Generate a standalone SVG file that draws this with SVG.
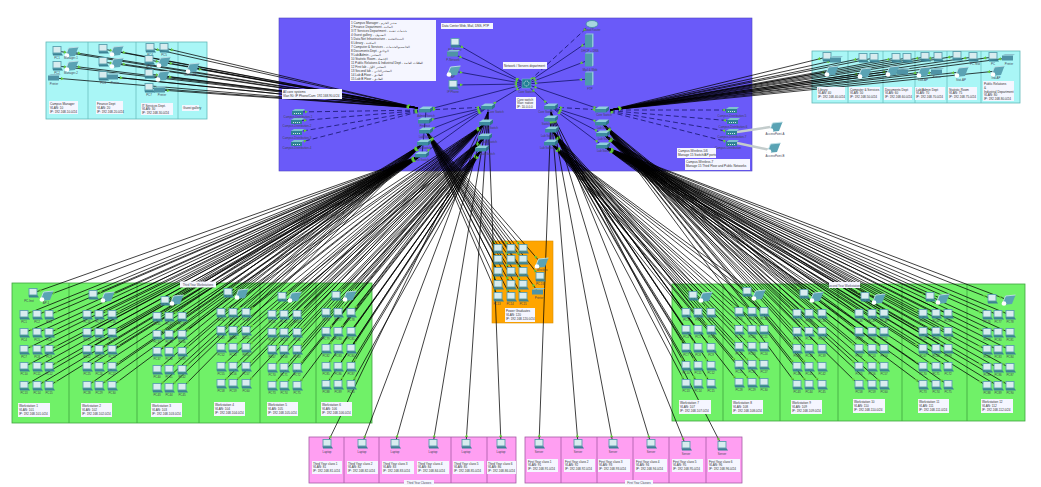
<svg xmlns="http://www.w3.org/2000/svg" width="1041" height="487" viewBox="0 0 1041 487">
<style>
text{font-family:"Liberation Sans",Arial,sans-serif;font-size:2.9px;fill:#445;text-anchor:middle}
.nt{font-size:3.1px;fill:#333;text-anchor:start}
.n{fill:#f5f6ff}
.b{stroke-width:.8;fill:none}
.d{stroke-width:.7;fill:none}
.c line{stroke:#000;stroke-width:.75;marker-start:url(#ts);marker-end:url(#te)}
.da line{stroke:#14146a;stroke-width:.8;stroke-dasharray:5 3;marker-start:url(#ts);marker-end:url(#te)}
.s line{stroke:#14146a;stroke-width:.8;marker-start:url(#ts);marker-end:url(#te)}
marker{overflow:visible}
</style>
<defs>
<marker id="ts" markerUnits="userSpaceOnUse" orient="auto" refX="0" refY="0" markerWidth="1" markerHeight="1"><path d="M9-1.6 12 0 9 1.6z" fill="#63c93c"/></marker>
<marker id="te" markerUnits="userSpaceOnUse" orient="auto" refX="0" refY="0" markerWidth="1" markerHeight="1"><path d="M-7-1.6-10 0-7 1.6z" fill="#63c93c"/></marker>
<g id="pc"><rect x="-4" y="-4.500" width="8" height="6.500" fill="#d8ecef" stroke="#5a9fae" stroke-width=".9"/><path d="M-4.500 2.300H4.500L6 4.500H-4z" fill="#3c8295"/></g>
<g id="wl"><path d="M-6 5-2.500-4 7.500-5 4 4z" fill="#5aa3b4"/><path d="M-6 5-2.500-4 7.500-5" fill="none" stroke="#bfe0e6" stroke-width=".9"/><circle cx="-4" cy="3.500" r="2.300" fill="#fff"/></g>
<g id="pr"><rect x="-6" y="-2.500" width="11" height="5" fill="#4f93a6"/><path d="M-6-2.500H5L7-4H-3z" fill="#8cc3cf"/></g>
<g id="sw"><path d="M-7-1-3-3.500H7L4-1z" fill="#8fd0da"/><path d="M-7-1H4V2.500H-7z" fill="#3d8ba0"/><path d="M4-1 7-3.500V0L4 2.500z" fill="#2f7488"/></g>
<g id="cs"><path d="M-6-1-3-3H7L5-1z" fill="#7fc2cf"/><path d="M-6-1H5V3H-6z" fill="#2f8295"/><path d="M-4 1.500H3" stroke="#fff" stroke-width=".8" stroke-dasharray="1 1"/></g>
<g id="sv"><rect x="-4" y="-6.500" width="7" height="13" fill="#4f9bac"/><path d="M-4-6.500-2.500-7.500H4.500L3-6.500zM3-6.500 4.500-7.500V5.500L3 6.500z" fill="#8cc9d4"/></g>
</defs>

<g id="backgrounds">
<rect x="279" y="18" width="473" height="153" fill="#6a5af9" stroke="#4e44c0" stroke-width=".6"/>
<rect x="46" y="42" width="161" height="77" fill="#a9f6f6" stroke="#62b8b8" stroke-width=".8"/>
<path class="d" stroke="#62b8b8" d="M88 42V119M136 42V119M178 42V119"/>
<rect x="812" y="51" width="208" height="52" fill="#a9f6f6" stroke="#62b8b8" stroke-width=".8"/>
<path class="d" stroke="#62b8b8" d="M848 51V103M883 51V103M915 51V103M947 51V103M981 51V103"/>
<rect x="12" y="283" width="360" height="140" fill="#70f168" stroke="#3fa53f" stroke-width=".8"/>
<path class="b" stroke="#3fa53f" d="M69 283V423M137 283V423M199 283V423M260 283V423M316 283V423"/>
<rect x="672" y="284" width="353" height="137" fill="#70f168" stroke="#3fa53f" stroke-width=".8"/>
<path class="b" stroke="#3fa53f" d="M723 284V421M780 284V421M838 284V421M902 284V421M967 284V421"/>
<rect x="309" y="437" width="207" height="46" fill="#ff9ff2" stroke="#a55aa5" stroke-width=".8"/>
<path class="b" stroke="#a55aa5" d="M344 437V483M379 437V483M451 437V483M487 437V483"/>
<rect x="525" y="437" width="217" height="46" fill="#ff9ff2" stroke="#a55aa5" stroke-width=".8"/>
<path class="b" stroke="#a55aa5" d="M561 437V483M597 437V483M633 437V483M669 437V483M706 437V483"/>
<rect x="492" y="241" width="61" height="82" fill="#ffa500" stroke="#d98c00" stroke-width=".6"/>
</g>

<g id="connectors">
<g class="da">
<line x1="592" y1="23" x2="526" y2="84"/>
<line x1="426" y1="110" x2="298" y2="112"/><line x1="426" y1="110" x2="297" y2="121"/><line x1="426" y1="110" x2="297" y2="132"/><line x1="426" y1="110" x2="297" y2="143"/>
<line x1="488" y1="107" x2="426" y2="110"/>
<line x1="602" y1="110" x2="732" y2="110"/><line x1="602" y1="110" x2="733" y2="121"/><line x1="602" y1="110" x2="732" y2="132"/><line x1="602" y1="110" x2="732" y2="143"/>
<line x1="551" y1="107" x2="602" y2="110"/>
</g>
<g class="s">
<line x1="526" y1="84" x2="589" y2="41"/><line x1="526" y1="84" x2="589" y2="60"/><line x1="526" y1="84" x2="589" y2="79"/>
<line x1="526" y1="84" x2="455" y2="43"/><line x1="526" y1="84" x2="453" y2="54"/><line x1="526" y1="84" x2="453" y2="71"/><line x1="526" y1="84" x2="453" y2="85"/>
<line x1="526" y1="84" x2="426" y2="110"/><line x1="526" y1="84" x2="488" y2="107"/><line x1="526" y1="84" x2="551" y2="107"/><line x1="526" y1="84" x2="602" y2="110"/>
<line x1="488" y1="107" x2="425" y2="121"/><line x1="488" y1="107" x2="426" y2="131"/><line x1="488" y1="107" x2="424" y2="143"/><line x1="488" y1="107" x2="422" y2="155"/>
<line x1="551" y1="107" x2="602" y2="123"/><line x1="551" y1="107" x2="603" y2="134"/><line x1="551" y1="107" x2="603" y2="146"/>
</g>
<path d="M737 132 770 127M737 143 770 150" stroke="#c3cccc" stroke-width="2.500" fill="none"/>
<path d="M488 107V149M551 107V143M426 110 422 155" stroke="#14146a" stroke-width=".8" fill="none"/>
<g class="c" id="c-cyan-left">
<line x1="418" y1="108" x2="57" y2="51"/><line x1="418" y1="108" x2="71" y2="52"/><line x1="418" y1="108" x2="57" y2="66"/><line x1="418" y1="108" x2="71" y2="66"/><line x1="418" y1="108" x2="54" y2="78"/>
<line x1="418" y1="108" x2="103" y2="49"/><line x1="418" y1="108" x2="116" y2="51"/><line x1="418" y1="108" x2="103" y2="62"/><line x1="418" y1="108" x2="116" y2="63"/><line x1="418" y1="108" x2="103" y2="76"/><line x1="418" y1="108" x2="113" y2="77"/>
<line x1="418" y1="108" x2="150" y2="48"/><line x1="418" y1="108" x2="164" y2="48"/><line x1="418" y1="108" x2="149" y2="60"/><line x1="418" y1="108" x2="163" y2="62"/><line x1="418" y1="108" x2="149" y2="74"/><line x1="418" y1="108" x2="162" y2="76"/><line x1="418" y1="108" x2="149" y2="88"/><line x1="418" y1="108" x2="160" y2="90"/><line x1="418" y1="108" x2="192" y2="68"/>
</g>
<g class="c" id="c-cyan-right">
<line x1="610" y1="110" x2="827" y2="57"/><line x1="610" y1="110" x2="836" y2="60"/><line x1="610" y1="110" x2="831" y2="71"/>
<line x1="610" y1="110" x2="863" y2="58"/><line x1="610" y1="110" x2="874" y2="58"/><line x1="610" y1="110" x2="864" y2="73"/>
<line x1="610" y1="110" x2="896" y2="58"/><line x1="610" y1="110" x2="907" y2="58"/><line x1="610" y1="110" x2="892" y2="71"/><line x1="610" y1="110" x2="903" y2="72"/>
<line x1="610" y1="110" x2="925" y2="57"/><line x1="610" y1="110" x2="938" y2="57"/><line x1="610" y1="110" x2="923" y2="72"/><line x1="610" y1="110" x2="937" y2="72"/>
<line x1="610" y1="110" x2="957" y2="56"/><line x1="610" y1="110" x2="973" y2="57"/><line x1="610" y1="110" x2="961" y2="72"/>
<line x1="610" y1="110" x2="993" y2="57"/><line x1="610" y1="110" x2="1008" y2="58"/><line x1="610" y1="110" x2="997" y2="71"/>
</g>
<g class="c" id="c-green-left">
<line x1="422" y1="155" x2="33" y2="293"/><line x1="422" y1="155" x2="46" y2="296"/><line x1="422" y1="155" x2="24" y2="315"/><line x1="422" y1="155" x2="37" y2="315"/><line x1="422" y1="155" x2="49" y2="315"/><line x1="422" y1="155" x2="24" y2="333"/><line x1="422" y1="155" x2="37" y2="333"/><line x1="422" y1="155" x2="49" y2="333"/><line x1="422" y1="155" x2="24" y2="350"/><line x1="422" y1="155" x2="37" y2="350"/><line x1="422" y1="155" x2="49" y2="350"/><line x1="422" y1="155" x2="24" y2="367"/><line x1="422" y1="155" x2="37" y2="367"/><line x1="422" y1="155" x2="49" y2="367"/><line x1="422" y1="155" x2="24" y2="386"/><line x1="422" y1="155" x2="37" y2="386"/><line x1="422" y1="155" x2="49" y2="386"/>
<line x1="422" y1="155" x2="93" y2="295"/><line x1="422" y1="155" x2="107" y2="297"/><line x1="422" y1="155" x2="87" y2="315"/><line x1="422" y1="155" x2="99" y2="315"/><line x1="422" y1="155" x2="112" y2="315"/><line x1="422" y1="155" x2="87" y2="333"/><line x1="422" y1="155" x2="99" y2="333"/><line x1="422" y1="155" x2="112" y2="333"/><line x1="422" y1="155" x2="87" y2="350"/><line x1="422" y1="155" x2="99" y2="350"/><line x1="422" y1="155" x2="112" y2="350"/><line x1="422" y1="155" x2="87" y2="367"/><line x1="422" y1="155" x2="99" y2="367"/><line x1="422" y1="155" x2="112" y2="367"/><line x1="422" y1="155" x2="87" y2="386"/><line x1="422" y1="155" x2="99" y2="386"/><line x1="422" y1="155" x2="112" y2="386"/>
<line x1="424" y1="143" x2="165" y2="301"/><line x1="424" y1="143" x2="176" y2="300"/><line x1="424" y1="143" x2="157" y2="317"/><line x1="424" y1="143" x2="169" y2="317"/><line x1="424" y1="143" x2="182" y2="317"/><line x1="424" y1="143" x2="157" y2="335"/><line x1="424" y1="143" x2="169" y2="335"/><line x1="424" y1="143" x2="182" y2="335"/><line x1="424" y1="143" x2="157" y2="352"/><line x1="424" y1="143" x2="169" y2="352"/><line x1="424" y1="143" x2="182" y2="352"/><line x1="424" y1="143" x2="157" y2="370"/><line x1="424" y1="143" x2="169" y2="370"/><line x1="424" y1="143" x2="182" y2="370"/><line x1="424" y1="143" x2="157" y2="388"/><line x1="424" y1="143" x2="169" y2="388"/><line x1="424" y1="143" x2="182" y2="388"/>
<line x1="486" y1="123" x2="228" y2="293"/><line x1="486" y1="123" x2="241" y2="294"/><line x1="486" y1="123" x2="221" y2="313"/><line x1="486" y1="123" x2="233" y2="313"/><line x1="486" y1="123" x2="246" y2="313"/><line x1="486" y1="123" x2="221" y2="331"/><line x1="486" y1="123" x2="233" y2="331"/><line x1="486" y1="123" x2="246" y2="331"/><line x1="486" y1="123" x2="221" y2="348"/><line x1="486" y1="123" x2="233" y2="348"/><line x1="486" y1="123" x2="246" y2="348"/><line x1="486" y1="123" x2="221" y2="367"/><line x1="486" y1="123" x2="233" y2="367"/><line x1="486" y1="123" x2="246" y2="367"/><line x1="486" y1="123" x2="221" y2="384"/><line x1="486" y1="123" x2="233" y2="384"/><line x1="486" y1="123" x2="246" y2="384"/>
<line x1="485" y1="137" x2="282" y2="297"/><line x1="485" y1="137" x2="294" y2="297"/><line x1="485" y1="137" x2="272" y2="315"/><line x1="485" y1="137" x2="284" y2="315"/><line x1="485" y1="137" x2="297" y2="315"/><line x1="485" y1="137" x2="272" y2="333"/><line x1="485" y1="137" x2="284" y2="333"/><line x1="485" y1="137" x2="297" y2="333"/><line x1="485" y1="137" x2="272" y2="350"/><line x1="485" y1="137" x2="284" y2="350"/><line x1="485" y1="137" x2="297" y2="350"/><line x1="485" y1="137" x2="272" y2="368"/><line x1="485" y1="137" x2="284" y2="368"/><line x1="485" y1="137" x2="297" y2="368"/><line x1="485" y1="137" x2="272" y2="386"/><line x1="485" y1="137" x2="284" y2="386"/><line x1="485" y1="137" x2="297" y2="386"/>
<line x1="482" y1="149" x2="336" y2="296"/><line x1="482" y1="149" x2="349" y2="296"/><line x1="482" y1="149" x2="326" y2="313"/><line x1="482" y1="149" x2="338" y2="313"/><line x1="482" y1="149" x2="351" y2="313"/><line x1="482" y1="149" x2="326" y2="332"/><line x1="482" y1="149" x2="338" y2="332"/><line x1="482" y1="149" x2="351" y2="332"/><line x1="482" y1="149" x2="326" y2="349"/><line x1="482" y1="149" x2="338" y2="349"/><line x1="482" y1="149" x2="351" y2="349"/><line x1="482" y1="149" x2="326" y2="367"/><line x1="482" y1="149" x2="338" y2="367"/><line x1="482" y1="149" x2="351" y2="367"/><line x1="482" y1="149" x2="326" y2="385"/><line x1="482" y1="149" x2="338" y2="385"/><line x1="482" y1="149" x2="351" y2="385"/>
</g>
<g class="c" id="c-green-right">
<line x1="552" y1="130" x2="693" y2="296"/><line x1="552" y1="130" x2="705" y2="297"/><line x1="552" y1="130" x2="686" y2="313"/><line x1="552" y1="130" x2="698" y2="313"/><line x1="552" y1="130" x2="711" y2="313"/><line x1="552" y1="130" x2="686" y2="330"/><line x1="552" y1="130" x2="698" y2="330"/><line x1="552" y1="130" x2="711" y2="330"/><line x1="552" y1="130" x2="686" y2="348"/><line x1="552" y1="130" x2="698" y2="348"/><line x1="552" y1="130" x2="711" y2="348"/><line x1="552" y1="130" x2="686" y2="366"/><line x1="552" y1="130" x2="698" y2="366"/><line x1="552" y1="130" x2="711" y2="366"/><line x1="552" y1="130" x2="686" y2="384"/><line x1="552" y1="130" x2="698" y2="384"/><line x1="552" y1="130" x2="711" y2="384"/>
<line x1="551" y1="143" x2="747" y2="292"/><line x1="551" y1="143" x2="758" y2="295"/><line x1="551" y1="143" x2="739" y2="312"/><line x1="551" y1="143" x2="752" y2="312"/><line x1="551" y1="143" x2="764" y2="312"/><line x1="551" y1="143" x2="739" y2="330"/><line x1="551" y1="143" x2="752" y2="330"/><line x1="551" y1="143" x2="764" y2="330"/><line x1="551" y1="143" x2="739" y2="347"/><line x1="551" y1="143" x2="752" y2="347"/><line x1="551" y1="143" x2="764" y2="347"/><line x1="551" y1="143" x2="739" y2="365"/><line x1="551" y1="143" x2="752" y2="365"/><line x1="551" y1="143" x2="764" y2="365"/><line x1="551" y1="143" x2="739" y2="383"/><line x1="551" y1="143" x2="752" y2="383"/><line x1="551" y1="143" x2="764" y2="383"/>
<line x1="602" y1="123" x2="804" y2="294"/><line x1="602" y1="123" x2="816" y2="297"/><line x1="602" y1="123" x2="797" y2="314"/><line x1="602" y1="123" x2="809" y2="314"/><line x1="602" y1="123" x2="822" y2="314"/><line x1="602" y1="123" x2="797" y2="332"/><line x1="602" y1="123" x2="809" y2="332"/><line x1="602" y1="123" x2="822" y2="332"/><line x1="602" y1="123" x2="797" y2="349"/><line x1="602" y1="123" x2="809" y2="349"/><line x1="602" y1="123" x2="822" y2="349"/><line x1="602" y1="123" x2="797" y2="367"/><line x1="602" y1="123" x2="809" y2="367"/><line x1="602" y1="123" x2="822" y2="367"/><line x1="602" y1="123" x2="797" y2="385"/><line x1="602" y1="123" x2="809" y2="385"/><line x1="602" y1="123" x2="822" y2="385"/>
<line x1="603" y1="134" x2="865" y2="297"/><line x1="603" y1="134" x2="878" y2="299"/><line x1="603" y1="134" x2="859" y2="314"/><line x1="603" y1="134" x2="872" y2="314"/><line x1="603" y1="134" x2="884" y2="314"/><line x1="603" y1="134" x2="859" y2="332"/><line x1="603" y1="134" x2="872" y2="332"/><line x1="603" y1="134" x2="884" y2="332"/><line x1="603" y1="134" x2="859" y2="349"/><line x1="603" y1="134" x2="872" y2="349"/><line x1="603" y1="134" x2="884" y2="349"/><line x1="603" y1="134" x2="859" y2="367"/><line x1="603" y1="134" x2="872" y2="367"/><line x1="603" y1="134" x2="884" y2="367"/><line x1="603" y1="134" x2="859" y2="385"/><line x1="603" y1="134" x2="872" y2="385"/><line x1="603" y1="134" x2="884" y2="385"/>
<line x1="603" y1="146" x2="930" y2="297"/><line x1="603" y1="146" x2="942" y2="299"/><line x1="603" y1="146" x2="923" y2="314"/><line x1="603" y1="146" x2="936" y2="314"/><line x1="603" y1="146" x2="948" y2="314"/><line x1="603" y1="146" x2="923" y2="332"/><line x1="603" y1="146" x2="936" y2="332"/><line x1="603" y1="146" x2="948" y2="332"/><line x1="603" y1="146" x2="923" y2="349"/><line x1="603" y1="146" x2="936" y2="349"/><line x1="603" y1="146" x2="948" y2="349"/><line x1="603" y1="146" x2="923" y2="367"/><line x1="603" y1="146" x2="936" y2="367"/><line x1="603" y1="146" x2="948" y2="367"/><line x1="603" y1="146" x2="923" y2="385"/><line x1="603" y1="146" x2="936" y2="385"/><line x1="603" y1="146" x2="948" y2="385"/>
<line x1="603" y1="146" x2="992" y2="299"/><line x1="603" y1="146" x2="1008" y2="300"/><line x1="603" y1="146" x2="987" y2="315"/><line x1="603" y1="146" x2="998" y2="315"/><line x1="603" y1="146" x2="1010" y2="315"/><line x1="603" y1="146" x2="987" y2="333"/><line x1="603" y1="146" x2="998" y2="333"/><line x1="603" y1="146" x2="1010" y2="333"/><line x1="603" y1="146" x2="987" y2="350"/><line x1="603" y1="146" x2="998" y2="350"/><line x1="603" y1="146" x2="1010" y2="350"/><line x1="603" y1="146" x2="987" y2="368"/><line x1="603" y1="146" x2="998" y2="368"/><line x1="603" y1="146" x2="1010" y2="368"/><line x1="603" y1="146" x2="987" y2="386"/><line x1="603" y1="146" x2="998" y2="386"/><line x1="603" y1="146" x2="1010" y2="386"/>
</g>
<g class="c" id="c-orange">
<line x1="426" y1="131" x2="498" y2="249"/><line x1="426" y1="131" x2="511" y2="249"/><line x1="426" y1="131" x2="523" y2="249"/><line x1="426" y1="131" x2="498" y2="260"/><line x1="426" y1="131" x2="511" y2="260"/><line x1="426" y1="131" x2="523" y2="260"/><line x1="426" y1="131" x2="498" y2="272"/><line x1="426" y1="131" x2="511" y2="272"/><line x1="426" y1="131" x2="523" y2="272"/><line x1="426" y1="131" x2="498" y2="285"/><line x1="426" y1="131" x2="511" y2="285"/><line x1="426" y1="131" x2="523" y2="285"/><line x1="426" y1="131" x2="498" y2="297"/><line x1="426" y1="131" x2="511" y2="297"/><line x1="426" y1="131" x2="523" y2="297"/><line x1="426" y1="131" x2="541" y2="263"/><line x1="426" y1="131" x2="540" y2="277"/><line x1="426" y1="131" x2="538" y2="292"/>
</g>
<g class="c" id="c-pink">
<line x1="488" y1="112" x2="327" y2="444"/><line x1="488" y1="112" x2="362" y2="444"/><line x1="488" y1="112" x2="395" y2="444"/><line x1="488" y1="112" x2="433" y2="444"/><line x1="488" y1="112" x2="466" y2="444"/><line x1="488" y1="112" x2="501" y2="444"/>
<line x1="551" y1="112" x2="539" y2="444"/><line x1="551" y1="112" x2="578" y2="444"/><line x1="551" y1="112" x2="613" y2="444"/><line x1="551" y1="112" x2="651" y2="444"/><line x1="551" y1="112" x2="686" y2="446"/><line x1="551" y1="112" x2="722" y2="446"/>
</g>
</g>

<g id="core-nodes">
<g id="sw1"><use href="#sw" x="426" y="110"/><text x="426" y="117">Admin Switch</text></g>
<g id="sw2"><use href="#sw" x="425" y="121"/><text x="425" y="127">Finance</text></g>
<g id="sw3"><use href="#sw" x="426" y="131"/><text x="426" y="138">Lab Switch</text></g>
<g id="sw4"><use href="#sw" x="424" y="143"/><text x="424" y="149">Lab Switch</text></g>
<g id="sw5"><use href="#sw" x="422" y="155"/><text x="422" y="161">Lab Switch</text></g>
<g id="sw6"><use href="#sw" x="488" y="107"/><text x="496" y="113">Core Switch</text></g>
<g id="sw7"><use href="#sw" x="486" y="123"/><text x="491" y="129">Lab Switch</text></g>
<g id="sw8"><use href="#sw" x="485" y="137"/><text x="490" y="143">Lab Switch</text></g>
<g id="sw9"><use href="#sw" x="482" y="149"/><text x="488" y="155">Lab Switch</text></g>
<g id="sw10"><use href="#sw" x="551" y="107"/><text x="546" y="113">Core Switch</text></g>
<g id="sw11"><use href="#sw" x="551" y="119"/><text x="546" y="125">Switch</text></g>
<g id="sw12"><use href="#sw" x="552" y="130"/><text x="548" y="137">Lab Switch</text></g>
<g id="sw13"><use href="#sw" x="551" y="143"/><text x="547" y="149">Lab Switch</text></g>
<g id="sw14"><use href="#sw" x="602" y="110"/><text x="604" y="116">Core Switch</text></g>
<g id="sw15"><use href="#sw" x="602" y="123"/><text x="604" y="129">Lab Switch</text></g>
<g id="sw16"><use href="#sw" x="603" y="134"/><text x="605" y="140">Lab Switch</text></g>
<g id="sw17"><use href="#sw" x="603" y="146"/><text x="604" y="152">Lab Switch</text></g>
<g id="cs1"><use href="#cs" x="298" y="112"/><text x="298" y="118">Campus-Distribution-1</text></g>
<g id="cs2"><use href="#cs" x="297" y="121"/><text x="297" y="127">Campus-Distribution-2</text></g>
<g id="cs3"><use href="#cs" x="297" y="132"/><text x="297" y="139">Campus-Distribution-3</text></g>
<g id="cs4"><use href="#cs" x="297" y="143"/><text x="297" y="149">Campus-Distribution-4</text></g>
<g id="cs5"><use href="#cs" x="732" y="110"/><text x="732" y="117">Campus-Distribution-5</text></g>
<g id="cs6"><use href="#cs" x="733" y="121"/><text x="733" y="128">Campus-Distribution-6</text></g>
<g id="cs7"><use href="#cs" x="732" y="132"/><text x="732" y="138">Campus-Distribution-7</text></g>
<g id="cs8"><use href="#cs" x="732" y="143"/><text x="728" y="149">Campus-Distribution</text></g>
<g id="core"><rect x="522" y="79" width="9" height="9" fill="#1f7f93" stroke="#7fc2cf" stroke-width=".5"/><circle cx="526.500" cy="83.500" r="2.500" fill="none" stroke="#fff" stroke-width=".8" stroke-dasharray="1 .7"/><text x="526" y="93">Core Switch</text></g>
<g id="router"><ellipse cx="592" cy="24" rx="6" ry="3.500" fill="#a6d6df" stroke="#3d8ba0" stroke-width=".8"/><text x="592" y="31">Cloud Router</text></g>
<g id="srv1"><use href="#sv" x="589" y="41"/><text x="590" y="52">DHCP + DNS</text></g>
<g id="srv2"><use href="#sv" x="589" y="60"/><text x="590" y="71">Mail &amp; Web</text></g>
<g id="srv3"><use href="#sv" x="589" y="79"/><text x="590" y="90">FTP</text></g>
<g id="adm1"><use href="#pc" x="455" y="43"/><text x="455" y="51">PC-Server</text></g>
<g id="adm2"><use href="#pr" x="453" y="54"/><text x="453" y="61">P-Network</text></g>
<g id="adm3"><use href="#wl" x="453" y="71"/><text x="453" y="78">AP</text></g>
<g id="adm4"><use href="#pc" x="453" y="85"/><text x="453" y="93">IP Phone</text></g>
<g id="ap1"><use href="#wl" x="775" y="127"/><text x="775" y="135">AccessPoint-A</text></g>
<g id="ap2"><use href="#wl" x="773" y="148"/><text x="775" y="157">AccessPoint-B</text></g>
</g>

<g id="notes-main">
<g id="list"><rect class="n" x="350" y="20" width="86" height="61"/><text class="nt" x="351" y="24">1 Campus Manager - مدير الحرم<tspan x="351" dy="4">2 Finance Department - المالية</tspan><tspan x="351" dy="4">3 IT Services Department - خدمات تقنية</tspan><tspan x="351" dy="4">4 Guest gallery - الضيوف</tspan><tspan x="351" dy="4">5 Data Net Infrastructure - البنية التحتية</tspan><tspan x="351" dy="4">6 Library - المكتبة</tspan><tspan x="351" dy="4">7 Computer &amp; Services - الحاسب والخدمات</tspan><tspan x="351" dy="4">8 Documents Dept - الوثائق</tspan><tspan x="351" dy="4">9 Lab/Admin - المختبر</tspan><tspan x="351" dy="4">10 Statistic Room - الإحصاء</tspan><tspan x="351" dy="4">11 Public Relations &amp; Industrial Dept - العلاقات العامة</tspan><tspan x="351" dy="4">12 First lab - المختبر الأول</tspan><tspan x="351" dy="4">13 Second lab - المختبر الثاني</tspan><tspan x="351" dy="4">14 Lab A Floor - الطابق</tspan><tspan x="351" dy="4">15 Lab B Floor - الطابق</tspan></text></g>
<g id="n-srv"><rect class="n" x="441" y="23" width="52" height="6"/><text class="nt" x="442" y="27">Data Center Web, Mail, DNS, FTP</text></g>
<g id="n-net"><rect class="n" x="503" y="62" width="44" height="7"/><text class="nt" x="504" y="66.500">Network / Servers department</text></g>
<g id="n-core"><rect class="n" x="516" y="97" width="20" height="12"/><text class="nt" x="517" y="100.500">Core switch<tspan x="517" dy="3.500">Vlan: native</tspan><tspan x="517" dy="3.500">IP: 10.0.0.0</tspan></text></g>
<g id="n-camp"><rect class="n" x="282" y="89" width="60" height="10"/><text class="nt" x="283" y="93">All core systems<tspan x="283" dy="4">Vlan 90: IP Phone/Cam: 192.168.90.0/24</tspan></text></g>
<g id="n-r1"><rect class="n" x="677" y="148" width="39" height="10"/><text class="nt" x="678" y="152">Campus-Wireless-5/6<tspan x="678" dy="4">Manage 15 Switch/AP ports</tspan></text></g>
<g id="n-r2"><rect class="n" x="685" y="159" width="65" height="11"/><text class="nt" x="686" y="163">Campus-Wireless-7<tspan x="686" dy="4">Manage 15 Third Floor and Public Networks</tspan></text></g>
</g>

<g id="cyan-left">
<g id="cl1"><use href="#pc" x="57" y="51"/><text x="57" y="59">PC1</text></g><g id="cl2"><use href="#wl" x="71" y="52"/><text x="71" y="59">Manager-1</text></g><g id="cl3"><use href="#pc" x="57" y="66"/><text x="57" y="74">PC2</text></g><g id="cl4"><use href="#wl" x="71" y="66"/><text x="71" y="74">Manager-2</text></g><g id="cl5"><use href="#pr" x="54" y="78"/><text x="54" y="85">Printer</text></g>
<g id="cl6"><use href="#pc" x="103" y="49"/></g><g id="cl7"><use href="#wl" x="116" y="51"/></g><g id="cl8"><use href="#pc" x="103" y="62"/></g><g id="cl9"><use href="#wl" x="116" y="63"/></g><g id="cl10"><use href="#pc" x="103" y="76"/><text x="103" y="84">PC3</text></g><g id="cl11"><use href="#pr" x="113" y="77"/><text x="115" y="84">Printer</text></g>
<g id="cl12"><use href="#pc" x="150" y="48"/><text x="150" y="56">PC4</text></g><g id="cl13"><use href="#pc" x="164" y="48"/><text x="164" y="56">PC5</text></g><g id="cl14"><use href="#pc" x="149" y="60"/><text x="149" y="68">PC6</text></g><g id="cl15"><use href="#wl" x="163" y="62"/></g><g id="cl16"><use href="#pc" x="149" y="74"/></g><g id="cl17"><use href="#wl" x="162" y="76"/></g><g id="cl18"><use href="#pc" x="149" y="88"/><text x="149" y="96">PC7</text></g><g id="cl19"><use href="#pr" x="160" y="90"/><text x="162" y="96">Printer</text></g>
<g id="cl20"><use href="#wl" x="192" y="68"/><text x="190" y="76">Guest AP</text></g>
<g id="cn1"><rect class="n" x="49" y="101" width="29" height="13"/><text class="nt" x="50" y="105">Campus Manager<tspan x="50" dy="3.800">VLAN: 10</tspan><tspan x="50" dy="3.800">IP: 192.168.10.0/24</tspan></text></g>
<g id="cn2"><rect class="n" x="96" y="101" width="27" height="13"/><text class="nt" x="97" y="105">Finance Dept<tspan x="97" dy="3.800">VLAN: 20</tspan><tspan x="97" dy="3.800">IP: 192.168.20.0/24</tspan></text></g>
<g id="cn3"><rect class="n" x="141" y="103" width="32" height="12"/><text class="nt" x="142" y="106.500">IT Services Dept.<tspan x="142" dy="3.800">VLAN: 30</tspan><tspan x="142" dy="3.800">IP: 192.168.30.0/24</tspan></text></g>
<g id="cn4"><rect class="n" x="182" y="105" width="17" height="6"/><text class="nt" x="183" y="109">Guest gallery</text></g>
</g>

<g id="cyan-right">
<g id="cr1"><use href="#pc" x="827" y="57"/></g><g id="cr2"><use href="#pr" x="836" y="60"/></g><g id="cr3"><use href="#wl" x="831" y="71"/></g>
<g id="cr4"><use href="#pc" x="863" y="58"/></g><g id="cr5"><use href="#pc" x="874" y="58"/></g><g id="cr6"><use href="#wl" x="864" y="73"/></g>
<g id="cr7"><use href="#pc" x="896" y="58"/></g><g id="cr8"><use href="#pc" x="907" y="58"/></g><g id="cr9"><use href="#wl" x="892" y="71"/></g><g id="cr10"><use href="#pr" x="903" y="72"/></g>
<g id="cr11"><use href="#pc" x="925" y="57"/></g><g id="cr12"><use href="#pc" x="938" y="57"/></g><g id="cr13"><use href="#wl" x="923" y="72"/><text x="923" y="81">Lab-AP</text></g><g id="cr14"><use href="#pr" x="937" y="72"/><text x="937" y="78">Printer</text></g>
<g id="cr15"><use href="#pc" x="957" y="56"/></g><g id="cr16"><use href="#pc" x="973" y="57"/><text x="975" y="65">PC-Stat</text></g><g id="cr17"><use href="#wl" x="961" y="72"/><text x="961" y="81">Stat-AP</text></g>
<g id="cr18"><use href="#pc" x="993" y="57"/><text x="993" y="65">PC</text></g><g id="cr19"><use href="#pr" x="1008" y="58"/><text x="1009" y="65">Printer</text></g><g id="cr20"><use href="#wl" x="997" y="71"/><text x="996" y="79">Ind-AP</text></g>
<g id="rn1"><rect class="n" x="817" y="87" width="28" height="13"/><text class="nt" x="818" y="90.500">Library<tspan x="818" dy="3.800">VLAN: 40</tspan><tspan x="818" dy="3.800">IP: 192.168.40.0/24</tspan></text></g>
<g id="rn2"><rect class="n" x="849" y="87" width="31" height="13"/><text class="nt" x="850" y="90.500">Computer &amp; Services<tspan x="850" dy="3.800">VLAN: 50</tspan><tspan x="850" dy="3.800">IP: 192.168.50.0/24</tspan></text></g>
<g id="rn3"><rect class="n" x="884" y="87" width="28" height="13"/><text class="nt" x="885" y="90.500">Documents Dept<tspan x="885" dy="3.800">VLAN: 60</tspan><tspan x="885" dy="3.800">IP: 192.168.60.0/24</tspan></text></g>
<g id="rn4"><rect class="n" x="915" y="87" width="30" height="13"/><text class="nt" x="916" y="90.500">Lab/Admin Dept<tspan x="916" dy="3.800">VLAN: 70</tspan><tspan x="916" dy="3.800">IP: 192.168.70.0/24</tspan></text></g>
<g id="rn5"><rect class="n" x="948" y="87" width="29" height="13"/><text class="nt" x="949" y="90.500">Statistic Room<tspan x="949" dy="3.800">VLAN: 75</tspan><tspan x="949" dy="3.800">IP: 192.168.75.0/24</tspan></text></g>
<g id="rn6"><rect class="n" x="983" y="81" width="31" height="20"/><text class="nt" x="984" y="85">Public Relations<tspan x="984" dy="3.800">&amp;</tspan><tspan x="984" dy="3.800">Industrial Department</tspan><tspan x="984" dy="3.800">VLAN: 80</tspan><tspan x="984" dy="3.800">IP: 192.168.80.0/24</tspan></text></g>
</g>

<g id="green-left">
<g id="a1"><use href="#pc" x="33" y="293"/><use href="#wl" x="46" y="296"/><text x="29" y="302">PC-Inst</text><text x="46" y="304">AP-1</text>
<use href="#pc" x="24" y="315"/><use href="#pc" x="37" y="315"/><use href="#pc" x="49" y="315"/><use href="#pc" x="24" y="333"/><use href="#pc" x="37" y="333"/><use href="#pc" x="49" y="333"/><use href="#pc" x="24" y="350"/><use href="#pc" x="37" y="350"/><use href="#pc" x="49" y="350"/><use href="#pc" x="24" y="367"/><use href="#pc" x="37" y="367"/><use href="#pc" x="49" y="367"/><use href="#pc" x="24" y="386"/><use href="#pc" x="37" y="386"/><use href="#pc" x="49" y="386"/>
<text x="24" y="323">PC1</text><text x="37" y="323">PC2</text><text x="49" y="323">PC3</text><text x="24" y="341">PC4</text><text x="37" y="341">PC5</text><text x="49" y="341">PC6</text><text x="24" y="358">PC7</text><text x="37" y="358">PC8</text><text x="49" y="358">PC9</text><text x="24" y="375">PC10</text><text x="37" y="375">PC11</text><text x="49" y="375">PC12</text><text x="24" y="394">PC13</text><text x="37" y="394">PC14</text><text x="49" y="394">PC15</text>
<rect class="n" x="18" y="403" width="32" height="14"/><text class="nt" x="19" y="407">Workstation 1<tspan x="19" dy="3.800">VLAN: 101</tspan><tspan x="19" dy="3.800">IP: 192.168.101.0/24</tspan></text></g>
<g id="a2"><use href="#pc" x="93" y="295"/><use href="#wl" x="107" y="297"/>
<use href="#pc" x="87" y="315"/><use href="#pc" x="99" y="315"/><use href="#pc" x="112" y="315"/><use href="#pc" x="87" y="333"/><use href="#pc" x="99" y="333"/><use href="#pc" x="112" y="333"/><use href="#pc" x="87" y="350"/><use href="#pc" x="99" y="350"/><use href="#pc" x="112" y="350"/><use href="#pc" x="87" y="367"/><use href="#pc" x="99" y="367"/><use href="#pc" x="112" y="367"/><use href="#pc" x="87" y="386"/><use href="#pc" x="99" y="386"/><use href="#pc" x="112" y="386"/>
<text x="87" y="323">PC16</text><text x="99" y="323">PC17</text><text x="112" y="323">PC18</text><text x="87" y="341">PC19</text><text x="99" y="341">PC20</text><text x="112" y="341">PC21</text><text x="87" y="358">PC22</text><text x="99" y="358">PC23</text><text x="112" y="358">PC24</text><text x="87" y="375">PC25</text><text x="99" y="375">PC26</text><text x="112" y="375">PC27</text><text x="87" y="394">PC28</text><text x="99" y="394">PC29</text><text x="112" y="394">PC30</text>
<rect class="n" x="81" y="403" width="31" height="14"/><text class="nt" x="82" y="407">Workstation 2<tspan x="82" dy="3.800">VLAN: 102</tspan><tspan x="82" dy="3.800">IP: 192.168.102.0/24</tspan></text></g>
<g id="a3"><use href="#pc" x="165" y="301"/><use href="#wl" x="176" y="300"/>
<use href="#pc" x="157" y="317"/><use href="#pc" x="169" y="317"/><use href="#pc" x="182" y="317"/><use href="#pc" x="157" y="335"/><use href="#pc" x="169" y="335"/><use href="#pc" x="182" y="335"/><use href="#pc" x="157" y="352"/><use href="#pc" x="169" y="352"/><use href="#pc" x="182" y="352"/><use href="#pc" x="157" y="370"/><use href="#pc" x="169" y="370"/><use href="#pc" x="182" y="370"/><use href="#pc" x="157" y="388"/><use href="#pc" x="169" y="388"/><use href="#pc" x="182" y="388"/>
<text x="157" y="325">PC31</text><text x="169" y="325">PC32</text><text x="182" y="325">PC33</text><text x="157" y="343">PC34</text><text x="169" y="343">PC35</text><text x="182" y="343">PC36</text><text x="157" y="360">PC37</text><text x="169" y="360">PC38</text><text x="182" y="360">PC39</text><text x="157" y="378">PC40</text><text x="169" y="378">PC41</text><text x="182" y="378">PC42</text><text x="157" y="396">PC43</text><text x="169" y="396">PC44</text><text x="182" y="396">PC45</text>
<rect class="n" x="151" y="403" width="31" height="14"/><text class="nt" x="152" y="407">Workstation 3<tspan x="152" dy="3.800">VLAN: 103</tspan><tspan x="152" dy="3.800">IP: 192.168.103.0/24</tspan></text></g>
<g id="a4"><use href="#pc" x="228" y="293"/><use href="#wl" x="241" y="294"/>
<use href="#pc" x="221" y="313"/><use href="#pc" x="233" y="313"/><use href="#pc" x="246" y="313"/><use href="#pc" x="221" y="331"/><use href="#pc" x="233" y="331"/><use href="#pc" x="246" y="331"/><use href="#pc" x="221" y="348"/><use href="#pc" x="233" y="348"/><use href="#pc" x="246" y="348"/><use href="#pc" x="221" y="367"/><use href="#pc" x="233" y="367"/><use href="#pc" x="246" y="367"/><use href="#pc" x="221" y="384"/><use href="#pc" x="233" y="384"/><use href="#pc" x="246" y="384"/>
<text x="221" y="321">PC46</text><text x="233" y="321">PC47</text><text x="246" y="321">PC48</text><text x="221" y="339">PC49</text><text x="233" y="339">PC50</text><text x="246" y="339">PC51</text><text x="221" y="356">PC52</text><text x="233" y="356">PC53</text><text x="246" y="356">PC54</text><text x="221" y="375">PC55</text><text x="233" y="375">PC56</text><text x="246" y="375">PC57</text><text x="221" y="392">PC58</text><text x="233" y="392">PC59</text><text x="246" y="392">PC60</text>
<rect class="n" x="214" y="402" width="31" height="14"/><text class="nt" x="215" y="406">Workstation 4<tspan x="215" dy="3.800">VLAN: 104</tspan><tspan x="215" dy="3.800">IP: 192.168.104.0/24</tspan></text></g>
<g id="a5"><use href="#pc" x="282" y="297"/><use href="#wl" x="294" y="297"/>
<use href="#pc" x="272" y="315"/><use href="#pc" x="284" y="315"/><use href="#pc" x="297" y="315"/><use href="#pc" x="272" y="333"/><use href="#pc" x="284" y="333"/><use href="#pc" x="297" y="333"/><use href="#pc" x="272" y="350"/><use href="#pc" x="284" y="350"/><use href="#pc" x="297" y="350"/><use href="#pc" x="272" y="368"/><use href="#pc" x="284" y="368"/><use href="#pc" x="297" y="368"/><use href="#pc" x="272" y="386"/><use href="#pc" x="284" y="386"/><use href="#pc" x="297" y="386"/>
<text x="272" y="323">PC61</text><text x="284" y="323">PC62</text><text x="297" y="323">PC63</text><text x="272" y="341">PC64</text><text x="284" y="341">PC65</text><text x="297" y="341">PC66</text><text x="272" y="358">PC67</text><text x="284" y="358">PC68</text><text x="297" y="358">PC69</text><text x="272" y="376">PC70</text><text x="284" y="376">PC71</text><text x="297" y="376">PC72</text><text x="272" y="394">PC73</text><text x="284" y="394">PC74</text><text x="297" y="394">PC75</text>
<rect class="n" x="267" y="402" width="31" height="14"/><text class="nt" x="268" y="406">Workstation 5<tspan x="268" dy="3.800">VLAN: 105</tspan><tspan x="268" dy="3.800">IP: 192.168.105.0/24</tspan></text></g>
<g id="a6"><use href="#pc" x="336" y="296"/><use href="#wl" x="349" y="296"/>
<use href="#pc" x="326" y="313"/><use href="#pc" x="338" y="313"/><use href="#pc" x="351" y="313"/><use href="#pc" x="326" y="332"/><use href="#pc" x="338" y="332"/><use href="#pc" x="351" y="332"/><use href="#pc" x="326" y="349"/><use href="#pc" x="338" y="349"/><use href="#pc" x="351" y="349"/><use href="#pc" x="326" y="367"/><use href="#pc" x="338" y="367"/><use href="#pc" x="351" y="367"/><use href="#pc" x="326" y="385"/><use href="#pc" x="338" y="385"/><use href="#pc" x="351" y="385"/>
<text x="326" y="321">PC76</text><text x="338" y="321">PC77</text><text x="351" y="321">PC78</text><text x="326" y="340">PC79</text><text x="338" y="340">PC80</text><text x="351" y="340">PC81</text><text x="326" y="357">PC82</text><text x="338" y="357">PC83</text><text x="351" y="357">PC84</text><text x="326" y="375">PC85</text><text x="338" y="375">PC86</text><text x="351" y="375">PC87</text><text x="326" y="393">PC88</text><text x="338" y="393">PC89</text><text x="351" y="393">PC90</text>
<rect class="n" x="321" y="402" width="31" height="14"/><text class="nt" x="322" y="406">Workstation 6<tspan x="322" dy="3.800">VLAN: 106</tspan><tspan x="322" dy="3.800">IP: 192.168.106.0/24</tspan></text></g>
<g id="tl"><rect class="n" x="180" y="281.500" width="36" height="6"/><text x="198" y="286">Third Year Workstations</text></g>
</g>

<g id="green-right">
<g id="b1"><use href="#pc" x="693" y="296"/><use href="#wl" x="705" y="297"/>
<use href="#pc" x="686" y="313"/><use href="#pc" x="698" y="313"/><use href="#pc" x="711" y="313"/><use href="#pc" x="686" y="330"/><use href="#pc" x="698" y="330"/><use href="#pc" x="711" y="330"/><use href="#pc" x="686" y="348"/><use href="#pc" x="698" y="348"/><use href="#pc" x="711" y="348"/><use href="#pc" x="686" y="366"/><use href="#pc" x="698" y="366"/><use href="#pc" x="711" y="366"/><use href="#pc" x="686" y="384"/><use href="#pc" x="698" y="384"/><use href="#pc" x="711" y="384"/>
<text x="686" y="321">PC1</text><text x="698" y="321">PC2</text><text x="711" y="321">PC3</text><text x="686" y="338">PC4</text><text x="698" y="338">PC5</text><text x="711" y="338">PC6</text><text x="686" y="356">PC7</text><text x="698" y="356">PC8</text><text x="711" y="356">PC9</text><text x="686" y="374">PC10</text><text x="698" y="374">PC11</text><text x="711" y="374">PC12</text><text x="686" y="392">PC13</text><text x="698" y="392">PC14</text><text x="711" y="392">PC15</text>
<rect class="n" x="679" y="400" width="32" height="14"/><text class="nt" x="680" y="404">Workstation 7<tspan x="680" dy="3.800">VLAN: 107</tspan><tspan x="680" dy="3.800">IP: 192.168.107.0/24</tspan></text></g>
<g id="b2"><use href="#pc" x="747" y="292"/><use href="#wl" x="758" y="295"/>
<use href="#pc" x="739" y="312"/><use href="#pc" x="752" y="312"/><use href="#pc" x="764" y="312"/><use href="#pc" x="739" y="330"/><use href="#pc" x="752" y="330"/><use href="#pc" x="764" y="330"/><use href="#pc" x="739" y="347"/><use href="#pc" x="752" y="347"/><use href="#pc" x="764" y="347"/><use href="#pc" x="739" y="365"/><use href="#pc" x="752" y="365"/><use href="#pc" x="764" y="365"/><use href="#pc" x="739" y="383"/><use href="#pc" x="752" y="383"/><use href="#pc" x="764" y="383"/>
<text x="739" y="320">PC16</text><text x="752" y="320">PC17</text><text x="764" y="320">PC18</text><text x="739" y="338">PC19</text><text x="752" y="338">PC20</text><text x="764" y="338">PC21</text><text x="739" y="355">PC22</text><text x="752" y="355">PC23</text><text x="764" y="355">PC24</text><text x="739" y="373">PC25</text><text x="752" y="373">PC26</text><text x="764" y="373">PC27</text><text x="739" y="391">PC28</text><text x="752" y="391">PC29</text><text x="764" y="391">PC30</text>
<rect class="n" x="732" y="400" width="31" height="14"/><text class="nt" x="733" y="404">Workstation 8<tspan x="733" dy="3.800">VLAN: 108</tspan><tspan x="733" dy="3.800">IP: 192.168.108.0/24</tspan></text></g>
<g id="b3"><use href="#pc" x="804" y="294"/><use href="#wl" x="816" y="297"/>
<use href="#pc" x="797" y="314"/><use href="#pc" x="809" y="314"/><use href="#pc" x="822" y="314"/><use href="#pc" x="797" y="332"/><use href="#pc" x="809" y="332"/><use href="#pc" x="822" y="332"/><use href="#pc" x="797" y="349"/><use href="#pc" x="809" y="349"/><use href="#pc" x="822" y="349"/><use href="#pc" x="797" y="367"/><use href="#pc" x="809" y="367"/><use href="#pc" x="822" y="367"/><use href="#pc" x="797" y="385"/><use href="#pc" x="809" y="385"/><use href="#pc" x="822" y="385"/>
<text x="797" y="322">PC31</text><text x="809" y="322">PC32</text><text x="822" y="322">PC33</text><text x="797" y="340">PC34</text><text x="809" y="340">PC35</text><text x="822" y="340">PC36</text><text x="797" y="357">PC37</text><text x="809" y="357">PC38</text><text x="822" y="357">PC39</text><text x="797" y="375">PC40</text><text x="809" y="375">PC41</text><text x="822" y="375">PC42</text><text x="797" y="393">PC43</text><text x="809" y="393">PC44</text><text x="822" y="393">PC45</text>
<rect class="n" x="791" y="400" width="31" height="14"/><text class="nt" x="792" y="404">Workstation 9<tspan x="792" dy="3.800">VLAN: 109</tspan><tspan x="792" dy="3.800">IP: 192.168.109.0/24</tspan></text></g>
<g id="b4"><use href="#pc" x="865" y="297"/><use href="#wl" x="878" y="299"/>
<use href="#pc" x="859" y="314"/><use href="#pc" x="872" y="314"/><use href="#pc" x="884" y="314"/><use href="#pc" x="859" y="332"/><use href="#pc" x="872" y="332"/><use href="#pc" x="884" y="332"/><use href="#pc" x="859" y="349"/><use href="#pc" x="872" y="349"/><use href="#pc" x="884" y="349"/><use href="#pc" x="859" y="367"/><use href="#pc" x="872" y="367"/><use href="#pc" x="884" y="367"/><use href="#pc" x="859" y="385"/><use href="#pc" x="872" y="385"/><use href="#pc" x="884" y="385"/>
<text x="859" y="322">PC46</text><text x="872" y="322">PC47</text><text x="884" y="322">PC48</text><text x="859" y="340">PC49</text><text x="872" y="340">PC50</text><text x="884" y="340">PC51</text><text x="859" y="357">PC52</text><text x="872" y="357">PC53</text><text x="884" y="357">PC54</text><text x="859" y="375">PC55</text><text x="872" y="375">PC56</text><text x="884" y="375">PC57</text><text x="859" y="393">PC58</text><text x="872" y="393">PC59</text><text x="884" y="393">PC60</text>
<rect class="n" x="853" y="399" width="32" height="14"/><text class="nt" x="854" y="403">Workstation 10<tspan x="854" dy="3.800">VLAN: 110</tspan><tspan x="854" dy="3.800">IP: 192.168.110.0/24</tspan></text></g>
<g id="b5"><use href="#pc" x="930" y="297"/><use href="#wl" x="942" y="299"/>
<use href="#pc" x="923" y="314"/><use href="#pc" x="936" y="314"/><use href="#pc" x="948" y="314"/><use href="#pc" x="923" y="332"/><use href="#pc" x="936" y="332"/><use href="#pc" x="948" y="332"/><use href="#pc" x="923" y="349"/><use href="#pc" x="936" y="349"/><use href="#pc" x="948" y="349"/><use href="#pc" x="923" y="367"/><use href="#pc" x="936" y="367"/><use href="#pc" x="948" y="367"/><use href="#pc" x="923" y="385"/><use href="#pc" x="936" y="385"/><use href="#pc" x="948" y="385"/>
<text x="923" y="322">PC61</text><text x="936" y="322">PC62</text><text x="948" y="322">PC63</text><text x="923" y="340">PC64</text><text x="936" y="340">PC65</text><text x="948" y="340">PC66</text><text x="923" y="357">PC67</text><text x="936" y="357">PC68</text><text x="948" y="357">PC69</text><text x="923" y="375">PC70</text><text x="936" y="375">PC71</text><text x="948" y="375">PC72</text><text x="923" y="393">PC73</text><text x="936" y="393">PC74</text><text x="948" y="393">PC75</text>
<rect class="n" x="918" y="399" width="31" height="14"/><text class="nt" x="919" y="403">Workstation 11<tspan x="919" dy="3.800">VLAN: 111</tspan><tspan x="919" dy="3.800">IP: 192.168.111.0/24</tspan></text></g>
<g id="b6"><use href="#pc" x="992" y="299"/><use href="#wl" x="1008" y="300"/>
<use href="#pc" x="987" y="315"/><use href="#pc" x="998" y="315"/><use href="#pc" x="1010" y="315"/><use href="#pc" x="987" y="333"/><use href="#pc" x="998" y="333"/><use href="#pc" x="1010" y="333"/><use href="#pc" x="987" y="350"/><use href="#pc" x="998" y="350"/><use href="#pc" x="1010" y="350"/><use href="#pc" x="987" y="368"/><use href="#pc" x="998" y="368"/><use href="#pc" x="1010" y="368"/><use href="#pc" x="987" y="386"/><use href="#pc" x="998" y="386"/><use href="#pc" x="1010" y="386"/>
<text x="987" y="323">PC76</text><text x="998" y="323">PC77</text><text x="1010" y="323">PC78</text><text x="987" y="341">PC79</text><text x="998" y="341">PC80</text><text x="1010" y="341">PC81</text><text x="987" y="358">PC82</text><text x="998" y="358">PC83</text><text x="1010" y="358">PC84</text><text x="987" y="376">PC85</text><text x="998" y="376">PC86</text><text x="1010" y="376">PC87</text><text x="987" y="394">PC88</text><text x="998" y="394">PC89</text><text x="1010" y="394">PC90</text>
<rect class="n" x="981" y="399" width="32" height="14"/><text class="nt" x="982" y="403">Workstation 12<tspan x="982" dy="3.800">VLAN: 112</tspan><tspan x="982" dy="3.800">IP: 192.168.112.0/24</tspan></text></g>
<g id="tr"><rect class="n" x="829" y="282" width="31" height="6"/><text x="844.500" y="286.500">Second Year Workstations</text></g>
</g>

<g id="orange">
<use href="#pc" x="498" y="249"/><use href="#pc" x="511" y="249"/><use href="#pc" x="523" y="249"/><use href="#pc" x="498" y="260"/><use href="#pc" x="511" y="260"/><use href="#pc" x="523" y="260"/><use href="#pc" x="498" y="272"/><use href="#pc" x="511" y="272"/><use href="#pc" x="523" y="272"/><use href="#pc" x="498" y="285"/><use href="#pc" x="511" y="285"/><use href="#pc" x="523" y="285"/><use href="#pc" x="498" y="297"/><use href="#pc" x="511" y="297"/><use href="#pc" x="523" y="297"/>
<text x="497" y="305">PC13</text><text x="510" y="305">PC14</text><text x="523" y="305">PC15</text>
<use href="#wl" x="541" y="263"/><text x="542" y="271">Wireless</text><use href="#pc" x="540" y="277"/><text x="540" y="285">PC-16</text><use href="#pr" x="538" y="292"/><text x="539" y="299">Printer</text>
<rect class="n" x="505" y="308" width="30" height="14"/><text class="nt" x="506" y="312">Power Graduates<tspan x="506" dy="3.800">VLAN: 120</tspan><tspan x="506" dy="3.800">IP: 192.168.120.0/24</tspan></text>
</g>

<g id="pink-left">
<g id="p1"><use href="#pc" x="327" y="444"/><text x="327" y="453">Laptop</text><rect class="n" x="312" y="461" width="30" height="13"/><text class="nt" x="313" y="464.500">Third Year class 1<tspan x="313" dy="3.800">VLAN: 81</tspan><tspan x="313" dy="3.800">IP: 192.168.81.0/24</tspan></text></g>
<g id="p2"><use href="#pc" x="362" y="444"/><text x="362" y="453">Laptop</text><rect class="n" x="347" y="461" width="31" height="13"/><text class="nt" x="348" y="464.500">Third Year class 2<tspan x="348" dy="3.800">VLAN: 82</tspan><tspan x="348" dy="3.800">IP: 192.168.82.0/24</tspan></text></g>
<g id="p3"><use href="#pc" x="395" y="444"/><text x="395" y="453">Laptop</text><rect class="n" x="382" y="461" width="32" height="13"/><text class="nt" x="383" y="464.500">Third Year class 3<tspan x="383" dy="3.800">VLAN: 83</tspan><tspan x="383" dy="3.800">IP: 192.168.83.0/24</tspan></text></g>
<g id="p4"><use href="#pc" x="433" y="444"/><text x="433" y="453">Laptop</text><rect class="n" x="417" y="461" width="32" height="13"/><text class="nt" x="418" y="464.500">Third Year class 4<tspan x="418" dy="3.800">VLAN: 84</tspan><tspan x="418" dy="3.800">IP: 192.168.84.0/24</tspan></text></g>
<g id="p5"><use href="#pc" x="466" y="444"/><text x="466" y="453">Laptop</text><rect class="n" x="453" y="461" width="31" height="13"/><text class="nt" x="454" y="464.500">Third Year class 5<tspan x="454" dy="3.800">VLAN: 85</tspan><tspan x="454" dy="3.800">IP: 192.168.85.0/24</tspan></text></g>
<g id="p6"><use href="#pc" x="501" y="444"/><text x="501" y="453">Laptop</text><rect class="n" x="487" y="461" width="29" height="13"/><text class="nt" x="488" y="464.500">Third Year class 6<tspan x="488" dy="3.800">VLAN: 86</tspan><tspan x="488" dy="3.800">IP: 192.168.86.0/24</tspan></text></g>
<g id="tp1"><rect class="n" x="404" y="480" width="30" height="5"/><text x="419" y="484">Third Year Classes</text></g>
</g>

<g id="pink-right">
<g id="q1"><use href="#pc" x="539" y="444"/><text x="539" y="453">Server</text><rect class="n" x="527" y="459" width="31" height="13"/><text class="nt" x="528" y="462.500">First Year class 1<tspan x="528" dy="3.800">VLAN: 91</tspan><tspan x="528" dy="3.800">IP: 192.168.91.0/24</tspan></text></g>
<g id="q2"><use href="#pc" x="578" y="444"/><text x="578" y="453">Server</text><rect class="n" x="564" y="459" width="31" height="13"/><text class="nt" x="565" y="462.500">First Year class 2<tspan x="565" dy="3.800">VLAN: 92</tspan><tspan x="565" dy="3.800">IP: 192.168.92.0/24</tspan></text></g>
<g id="q3"><use href="#pc" x="613" y="444"/><text x="613" y="453">Server</text><rect class="n" x="598" y="459" width="32" height="13"/><text class="nt" x="599" y="462.500">First Year class 3<tspan x="599" dy="3.800">VLAN: 93</tspan><tspan x="599" dy="3.800">IP: 192.168.93.0/24</tspan></text></g>
<g id="q4"><use href="#pc" x="651" y="444"/><text x="651" y="453">Server</text><rect class="n" x="635" y="459" width="32" height="13"/><text class="nt" x="636" y="462.500">First Year class 4<tspan x="636" dy="3.800">VLAN: 94</tspan><tspan x="636" dy="3.800">IP: 192.168.94.0/24</tspan></text></g>
<g id="q5"><use href="#pc" x="686" y="446"/><text x="686" y="455">Server</text><rect class="n" x="672" y="459" width="31" height="13"/><text class="nt" x="673" y="462.500">First Year class 5<tspan x="673" dy="3.800">VLAN: 95</tspan><tspan x="673" dy="3.800">IP: 192.168.95.0/24</tspan></text></g>
<g id="q6"><use href="#pc" x="722" y="446"/><text x="722" y="455">Server</text><rect class="n" x="708" y="459" width="32" height="13"/><text class="nt" x="709" y="462.500">First Year class 6<tspan x="709" dy="3.800">VLAN: 96</tspan><tspan x="709" dy="3.800">IP: 192.168.96.0/24</tspan></text></g>
<g id="tp2"><rect class="n" x="625" y="480" width="28" height="5"/><text x="639" y="484">First Year Classes</text></g>
</g>
</svg>
